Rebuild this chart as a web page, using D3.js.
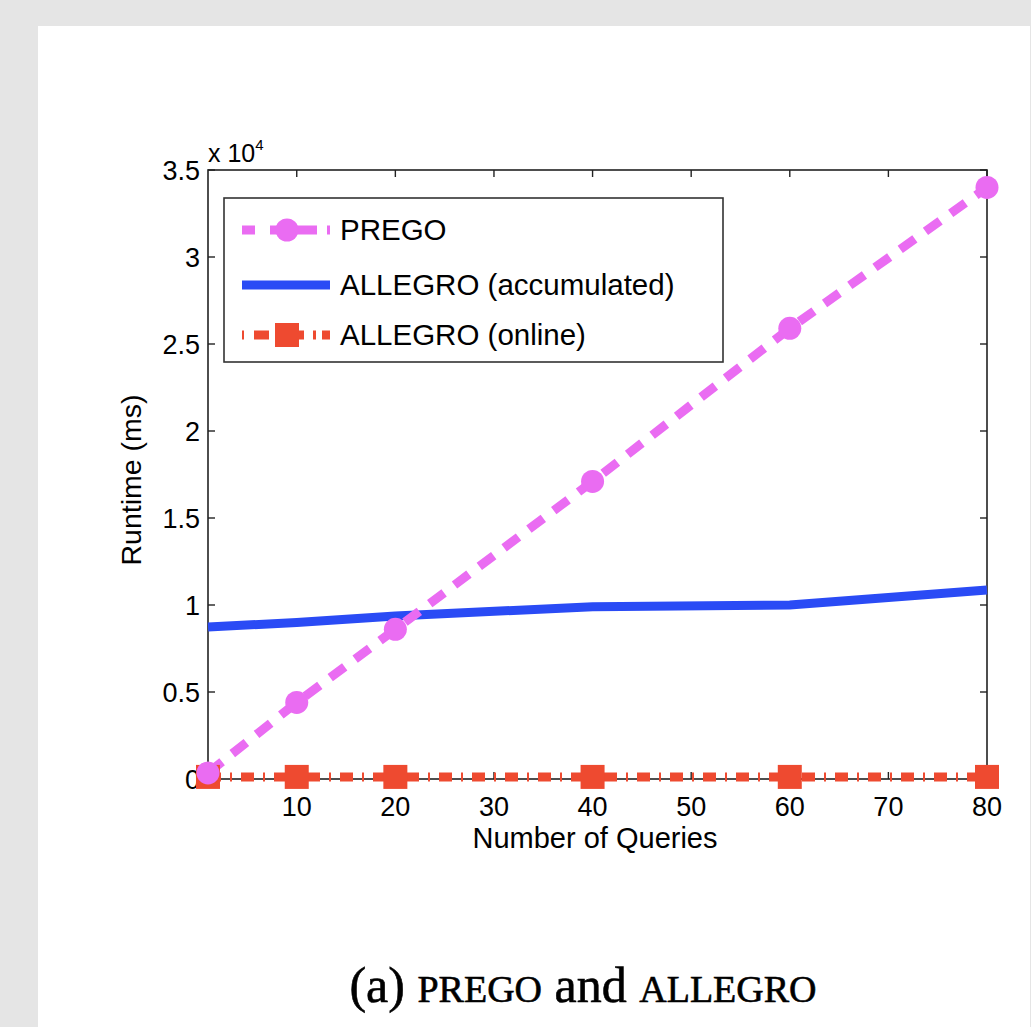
<!DOCTYPE html>
<html><head><meta charset="utf-8">
<script src="https://cdn.jsdelivr.net/npm/d3@7"></script>
<style>body{margin:0;background:#e5e5e5;}svg{display:block;}</style>
</head><body>
<svg id="chart" width="1031" height="1027"></svg>
<script>
const queries = [1, 10, 20, 40, 60, 80];
const pregoValues = [350, 4400, 8600, 17100, 25900, 34000];
const allegroAccumulated = [8730, 9000, 9370, 9900, 10000, 10860];
const allegroOnline = [120, 120, 120, 120, 120, 120];
const xTicks = [10, 20, 30, 40, 50, 60, 70, 80];
const yTicks = [0, 5000, 10000, 15000, 20000, 25000, 30000, 35000];
const seriesNames = ["PREGO", "ALLEGRO (accumulated)", "ALLEGRO (online)"];

const svg = d3.select("#chart");
svg.append("rect").attr("x",38).attr("y",26).attr("width",992).attr("height",1001).attr("fill","#fff");

const L=208, R=987, T=170, B=779;
const x = d3.scaleLinear().domain([1,80]).range([L,R]);
const y = d3.scaleLinear().domain([0,35000]).range([B,T]);
const font = "Liberation Sans, Arial, sans-serif";
const pink="#ea6cf2", blue="#2a4bf5", red="#ee4a30";

svg.append("rect").attr("x",L).attr("y",T).attr("width",R-L).attr("height",B-T)
  .attr("fill","none").attr("stroke","#222").attr("stroke-width",1.6);

const tl=7;
const g=svg.append("g").attr("font-family",font).attr("font-size",27).attr("fill","#000");
xTicks.forEach(t=>{
  const px=x(t);
  g.append("line").attr("x1",px).attr("x2",px).attr("y1",B).attr("y2",B-tl).attr("stroke","#222").attr("stroke-width",1.4);
  g.append("line").attr("x1",px).attr("x2",px).attr("y1",T).attr("y2",T+tl).attr("stroke","#222").attr("stroke-width",1.4);
  g.append("text").attr("x",px).attr("y",B+37).attr("text-anchor","middle").text(t);
});
yTicks.forEach(t=>{
  const py=y(t);
  g.append("line").attr("x1",L).attr("x2",L+tl).attr("y1",py).attr("y2",py).attr("stroke","#222").attr("stroke-width",1.4);
  g.append("line").attr("x1",R).attr("x2",R-tl).attr("y1",py).attr("y2",py).attr("stroke","#222").attr("stroke-width",1.4);
  g.append("text").attr("x",L-8).attr("y",py+10).attr("text-anchor","end").text(d3.format("~g")(t/10000));
});
const ex=g.append("text").attr("x",L).attr("y",T-8).attr("font-size",25);
ex.append("tspan").text("x 10");
ex.append("tspan").attr("font-size",15).attr("dy",-12).text("4");
g.append("text").attr("x",595).attr("y",848).attr("font-size",29).attr("text-anchor","middle").text("Number of Queries");
g.append("text").attr("transform",`translate(141,480) rotate(-90)`).attr("font-size",28.5).attr("text-anchor","middle").text("Runtime (ms)");

// lines
const line = d3.line().x((d,i)=>x(queries[i])).y(d=>y(d));
svg.append("path").datum(allegroAccumulated).attr("d",line).attr("fill","none").attr("stroke",blue).attr("stroke-width",9);
svg.append("path").datum(allegroOnline).attr("d",line).attr("fill","none").attr("stroke",red).attr("stroke-width",9).attr("stroke-dasharray","13 9 2 9");
svg.append("path").datum(pregoValues).attr("d",line).attr("fill","none").attr("stroke",pink).attr("stroke-width",9).attr("stroke-dasharray","18 13");

svg.append("g").selectAll("rect").data(allegroOnline).join("rect")
  .attr("x",(d,i)=>x(queries[i])-12).attr("y",d=>y(d)-12).attr("width",24).attr("height",24).attr("fill",red);
svg.append("g").selectAll("circle").data(pregoValues).join("circle")
  .attr("cx",(d,i)=>x(queries[i])).attr("cy",d=>y(d)).attr("r",11.5).attr("fill",pink);

// legend
const lg=svg.append("g");
lg.append("rect").attr("x",224).attr("y",198).attr("width",499).attr("height",164).attr("fill","#fff").attr("stroke","#333").attr("stroke-width",1.6);
const ly=[230,285,335];
lg.append("line").attr("x1",242).attr("x2",330).attr("y1",ly[0]).attr("y2",ly[0]).attr("stroke",pink).attr("stroke-width",9).attr("stroke-dasharray","13 15 47 10 3");
lg.append("circle").attr("cx",287).attr("cy",ly[0]).attr("r",11.5).attr("fill",pink);
lg.append("line").attr("x1",242).attr("x2",330).attr("y1",ly[1]).attr("y2",ly[1]).attr("stroke",blue).attr("stroke-width",9);
lg.append("line").attr("x1",242).attr("x2",330).attr("y1",ly[2]).attr("y2",ly[2]).attr("stroke",red).attr("stroke-width",9).attr("stroke-dasharray","2 10 15 7 28 9 3 6 8");
lg.append("rect").attr("x",275).attr("y",ly[2]-12).attr("width",24).attr("height",24).attr("fill",red);
seriesNames.forEach((n,i)=>{
  lg.append("text").attr("x",340).attr("y",ly[i]+10).attr("font-family",font).attr("font-size",29.5).text(n);
});

// caption
const cap=svg.append("text").attr("x",583).attr("y",1002).attr("text-anchor","middle")
  .attr("font-family","Liberation Serif, Times New Roman, serif").attr("font-size",50)
  .attr("stroke","#000").attr("stroke-width",0.6);
cap.append("tspan").text("(a) ");
cap.append("tspan").attr("font-size",38).text("PREGO");
cap.append("tspan").text(" and ");
cap.append("tspan").attr("font-size",38).text("ALLEGRO");
</script>
</body></html>
